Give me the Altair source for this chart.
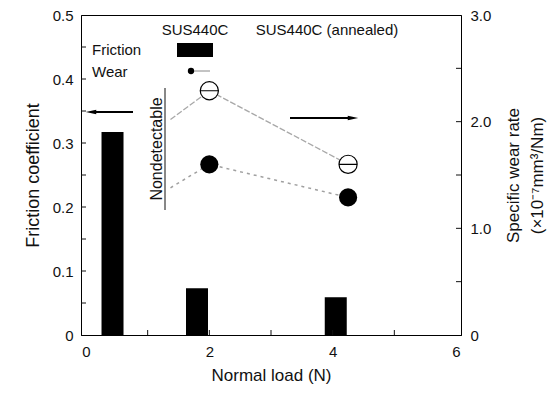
import altair as alt
import pandas as pd

# ---- data ----
bar_load = [0.43, 1.80, 4.05]
friction = [0.317, 0.073, 0.059]

line_load = [1.37, 2.00, 4.25]
wear_sus_line = [1.38, 1.60, 1.29]
wear_ann_line = [2.02, 2.29, 1.60]

point_load = [2.00, 4.25]
wear_sus = [1.60, 1.29]
wear_ann = [2.29, 1.60]

x_labels = [0, 2, 4, 6]
x_ticks = [1, 2, 3, 4, 5]
left_labels = [0, 0.1, 0.2, 0.3, 0.4, 0.5]
left_ticks = [0.05, 0.1, 0.15, 0.2, 0.25, 0.3, 0.35, 0.4, 0.45]
right_labels = [0, 1.0, 2.0, 3.0]
right_ticks = [0.5, 1.0, 1.5, 2.0, 2.5]

FONT = "Liberation Sans"
INK = "#111111"
W, H = 380, 320

xs = alt.Scale(domain=[0, 6], nice=False, zero=False)
ls = alt.Scale(domain=[0, 0.5], nice=False)
rs = alt.Scale(domain=[0, 3.0], nice=False)

df_bar = pd.DataFrame({"load": bar_load, "friction": friction})
df_line = pd.DataFrame({"load": line_load, "sus": wear_sus_line, "ann": wear_ann_line})
df_pt = pd.DataFrame({"load": point_load, "sus": wear_sus, "ann": wear_ann})
one = pd.DataFrame({"a": [0]})

bars = alt.Chart(df_bar).mark_bar(color="black", size=22).encode(
    x=alt.X("load:Q", scale=xs, axis=alt.Axis(
        values=x_labels, title="Normal load (N)", ticks=False, grid=False,
        labelPadding=9, titlePadding=8, titleFontSize=17, format="d", labelFlush=False)),
    y=alt.Y("friction:Q", scale=ls, axis=alt.Axis(
        orient="left", values=left_labels, title="Friction coefficient",
        labelExpr="datum.value == 0 ? '0' : format(datum.value, '.1f')",
        ticks=False, grid=False, labelPadding=8, titlePadding=10)),
)

xt = alt.Chart(pd.DataFrame({"t": x_ticks})).mark_rule(color=INK).encode(
    x=alt.X("t:Q", scale=xs), y=alt.value(H), y2=alt.value(H - 5))
lt = alt.Chart(pd.DataFrame({"t": left_ticks})).mark_rule(color=INK).encode(
    y=alt.Y("t:Q", scale=ls, axis=None), x=alt.value(0), x2=alt.value(5))
rt = alt.Chart(pd.DataFrame({"t": right_ticks})).mark_rule(color=INK).encode(
    y=alt.Y("t:Q", scale=rs, axis=None), x=alt.value(W), x2=alt.value(W - 5))

line_sus = alt.Chart(df_line).mark_line(color="#a0a0a0", strokeDash=[3, 4], strokeWidth=1.5).encode(
    x=alt.X("load:Q", scale=xs),
    y=alt.Y("sus:Q", scale=rs, axis=alt.Axis(
        orient="right", values=right_labels, title=["Specific wear rate", "(×10⁻⁷mm³/Nm)"],
        titleAngle=270, titleLineHeight=24, titleFontSize=17,
        labelExpr="datum.value == 0 ? '0' : format(datum.value, '.1f')",
        ticks=False, grid=False, labelPadding=9, titlePadding=8)),
)
line_ann = alt.Chart(df_line).mark_line(color="#a8a8a8", strokeDash=[6, 2], strokeWidth=1.3).encode(
    x=alt.X("load:Q", scale=xs), y=alt.Y("ann:Q", scale=rs, axis=None))

pt_sus = alt.Chart(df_pt).mark_point(shape="circle", filled=True, color="black", size=330, opacity=1).encode(
    x=alt.X("load:Q", scale=xs), y=alt.Y("sus:Q", scale=rs, axis=None))
theta = "M-1,0A1,1,0,1,0,1,0A1,1,0,1,0,-1,0ZM-1,0L1,0"
pt_ann = alt.Chart(df_pt).mark_point(shape=theta, filled=True, fill="white", stroke="black",
                                      strokeWidth=1.2, size=330, opacity=1).encode(
    x=alt.X("load:Q", scale=xs), y=alt.Y("ann:Q", scale=rs, axis=None))


def txt(s, x, y, size=15, align="left", angle=0):
    return alt.Chart(one).mark_text(text=s, font=FONT, fontSize=size, color=INK, align=align,
                                    baseline="middle", angle=angle).encode(
        x=alt.value(x), y=alt.value(y))


leg_rect = alt.Chart(one).mark_rect(color="black").encode(
    x=alt.value(96), x2=alt.value(132), y=alt.value(28), y2=alt.value(42))
leg_line = alt.Chart(one).mark_rule(color="#888888", strokeWidth=1).encode(
    x=alt.value(108), x2=alt.value(129), y=alt.value(56))
leg_dot = alt.Chart(one).mark_point(shape="circle", filled=True, color="black", size=40, opacity=1).encode(
    x=alt.value(110), y=alt.value(56))

arr_l = alt.Chart(one).mark_rule(color="black", strokeWidth=2).encode(
    x=alt.value(12), x2=alt.value(52), y=alt.value(97))
arr_l_head = alt.Chart(one).mark_point(shape="M-1,0L1,-0.45L1,0.45Z", filled=True, color="black",
                                       size=110, opacity=1).encode(x=alt.value(10), y=alt.value(97))
arr_r = alt.Chart(one).mark_rule(color="black", strokeWidth=2).encode(
    x=alt.value(209), x2=alt.value(270), y=alt.value(103))
arr_r_head = alt.Chart(one).mark_point(shape="M1,0L-1,-0.45L-1,0.45Z", filled=True, color="black",
                                       size=110, opacity=1).encode(x=alt.value(272), y=alt.value(103))

underline = alt.Chart(one).mark_rule(color=INK, strokeWidth=1).encode(
    x=alt.value(84), y=alt.value(73), y2=alt.value(195))

chart = alt.layer(
    bars, xt, lt, rt, line_sus, line_ann, pt_sus, pt_ann,
    txt("SUS440C", 114, 15, align="center"),
    txt("SUS440C (annealed)", 246, 15, align="center"),
    txt("Friction", 11, 35, size=15),
    txt("Wear", 11, 57, size=15),
    leg_rect, leg_line, leg_dot,
    arr_l, arr_l_head, arr_r, arr_r_head,
    txt("Nondetectable", 76, 134, size=16, align="center", angle=270),
    underline,
).resolve_scale(y="independent").properties(
    width=W, height=H,
    autosize=alt.AutoSizeParams(type="none"),
    padding={"left": 73, "top": 7, "right": 88, "bottom": 53},
).configure_view(stroke="black", strokeWidth=1).configure_axis(
    labelFont=FONT, titleFont=FONT, labelFontSize=15, titleFontSize=18,
    titleFontWeight="normal", labelColor=INK, titleColor=INK,
    domainColor="black", domainWidth=1,
)

chart.save("out.html", embed_options={"renderer": "svg", "actions": False})
